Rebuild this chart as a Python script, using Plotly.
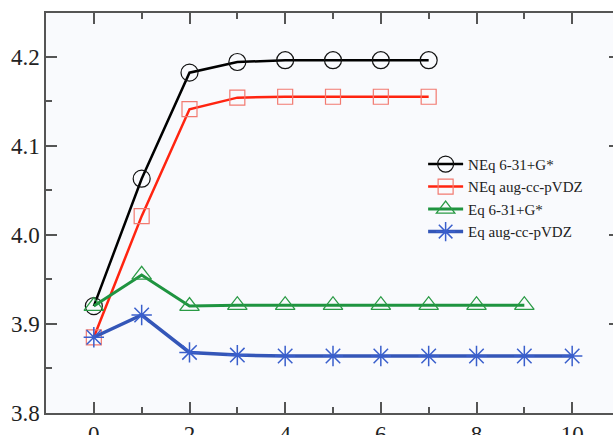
import plotly.graph_objects as go

x_neq = [0, 1, 2, 3, 4, 5, 6, 7]
x_eq631 = [0, 1, 2, 3, 4, 5, 6, 7, 8, 9]
x_eqaug = [0, 1, 2, 3, 4, 5, 6, 7, 8, 9, 10]

neq_631 = [3.920, 4.063, 4.182, 4.194, 4.196, 4.196, 4.196, 4.196]
neq_aug = [3.885, 4.021, 4.141, 4.154, 4.155, 4.155, 4.155, 4.155]
eq_631 = [3.920, 3.955, 3.920, 3.921, 3.921, 3.921, 3.921, 3.921, 3.921, 3.921]
eq_aug = [3.885, 3.910, 3.868, 3.865, 3.864, 3.864, 3.864, 3.864, 3.864, 3.864, 3.864]

names = ["NEq 6-31+G*", "NEq aug-cc-pVDZ", "Eq 6-31+G*", "Eq aug-cc-pVDZ"]

fig = go.Figure()
fig.add_trace(go.Scatter(x=x_neq, y=neq_631, name=names[0], mode="lines+markers",
                         line=dict(color="#000000", width=2.5),
                         marker=dict(symbol="circle-open", size=17, color="#111111", line=dict(width=1.2))))
fig.add_trace(go.Scatter(x=x_neq, y=neq_aug, name=names[1], mode="lines+markers",
                         line=dict(color="#ff2410", width=2.5),
                         marker=dict(symbol="square-open", size=15, color="#f27a70", line=dict(width=1.2))))
fig.add_trace(go.Scatter(x=x_eq631, y=eq_631, name=names[2], mode="lines+markers",
                         line=dict(color="#1f9440", width=3),
                         marker=dict(symbol="triangle-up-open", size=17, color="#2a9a45", line=dict(width=1.3))))
fig.add_trace(go.Scatter(x=x_eqaug, y=eq_aug, name=names[3], mode="lines+markers",
                         line=dict(color="#3456b8", width=3.5),
                         marker=dict(symbol="asterisk-open", size=17, color="#3a5fcc", line=dict(width=1.5))))

axis_common = dict(showline=True, linecolor="#555555", linewidth=1.5, mirror="ticks",
                   ticks="inside", tickcolor="#555555", tickwidth=1.5, ticklen=11,
                   showgrid=False, zeroline=False, automargin=False,
                   tickfont=dict(family="Liberation Serif", size=23, color="#222222"))

fig.update_xaxes(range=[-1, 11], dtick=2, tick0=0,
                 minor=dict(dtick=1, ticks="inside", ticklen=6, tickcolor="#555555", tickwidth=1.5),
                 **axis_common)
fig.update_yaxes(range=[3.8, 4.249], dtick=0.1, tick0=3.8, tickformat=".1f",
                 minor=dict(dtick=0.05, ticks="inside", ticklen=6, tickcolor="#555555", tickwidth=1.5),
                 **axis_common)

fig.update_layout(width=620, height=435,
                  margin=dict(l=46, r=0, t=13, b=22),
                  paper_bgcolor="#ffffff", plot_bgcolor="#f9fafd",
                  font=dict(family="Liberation Serif", color="#222222"),
                  legend=dict(x=0.657, y=0.663, xanchor="left", yanchor="top",
                              bgcolor="rgba(0,0,0,0)", font=dict(family="Liberation Serif", size=15),
                              tracegroupgap=0, itemwidth=35),
                  showlegend=True)

fig.write_html("out.html", config={"displayModeBar": False},
               post_script="document.body.style.margin='0';document.body.style.overflow='hidden';"
                           "document.documentElement.style.overflow='hidden';")
